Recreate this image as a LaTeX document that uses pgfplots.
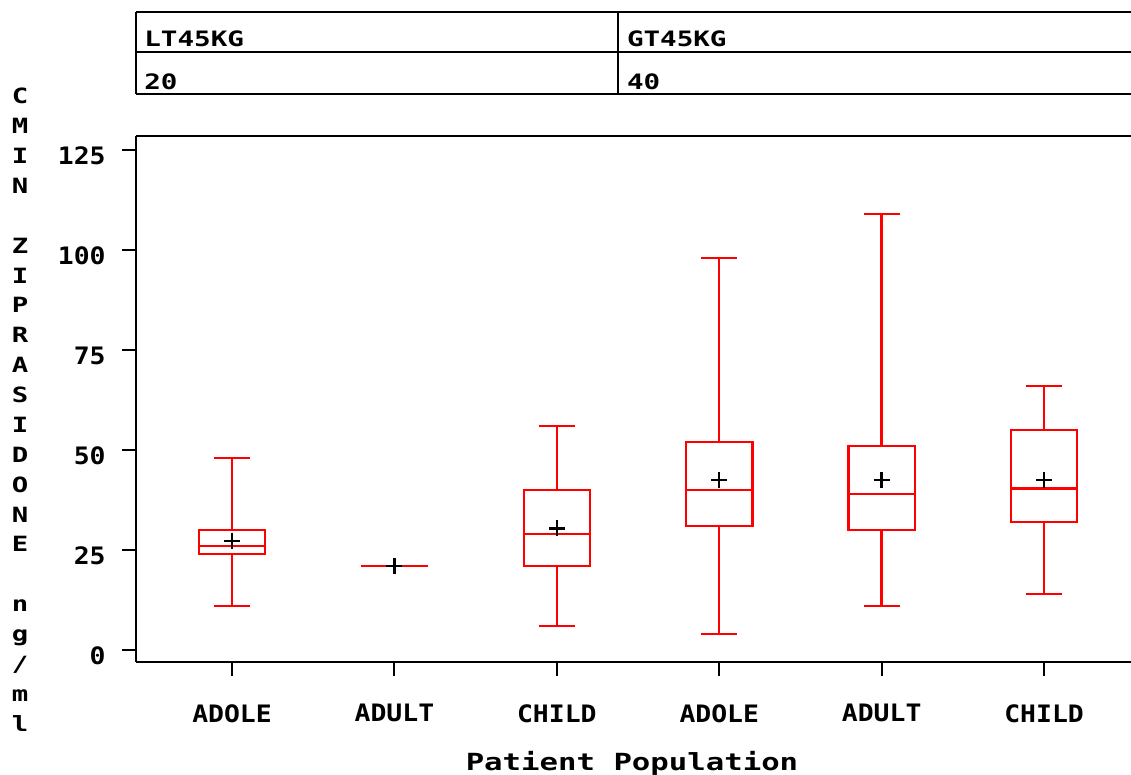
\documentclass[border=0pt]{standalone}
\usepackage{pgfplots}
\pgfplotsset{compat=1.18}
\usepgfplotslibrary{statistics}
\usepackage{fontspec}
\setmainfont{DejaVu Sans Mono}
\newfontfamily\tickfont[FakeStretch=1.1]{DejaVu Sans Mono}
\newfontfamily\widefont[FakeStretch=1.3]{DejaVu Sans Mono}

\pgfplotsset{
  sasbox/.style={red, line width=1.2pt, solid, mark=none},
  boxplot/draw direction=y,
}

\begin{document}
\begin{tikzpicture}
\useasboundingbox (0,0) rectangle (565.5pt,387.5pt);

% header table
\draw[line width=1pt] (68pt,381.5pt) -- (620pt,381.5pt);
\draw[line width=1pt] (68pt,361.5pt) -- (620pt,361.5pt);
\draw[line width=1pt] (68pt,340.5pt) -- (620pt,340.5pt);
\draw[line width=1pt] (68pt,381.5pt) -- (68pt,340.5pt);
\draw[line width=1pt] (309pt,381.5pt) -- (309pt,340.5pt);
\begin{scope}[every node/.style={anchor=base west, inner sep=0pt,
    font=\widefont\bfseries\fontsize{10.6pt}{12pt}\selectfont}]
  \node at (72pt,364.2pt) {LT45KG};
  \node at (72pt,342.9pt) {20};
  \node at (313.3pt,364.2pt) {GT45KG};
  \node at (313.3pt,342.9pt) {40};
\end{scope}

% vertical axis title, one character per line
\node[anchor=north, inner sep=0pt, align=center,
  font=\widefont\bfseries\fontsize{10.5pt}{14.93pt}\selectfont]
  at (10pt,343.5pt)
  {C\\M\\I\\N\\\mbox{}\\Z\\I\\P\\R\\A\\S\\I\\D\\O\\N\\E\\\mbox{}\\n\\g\\/\\m\\l};

% horizontal axis title
\node[anchor=base, inner sep=0pt,
  font=\widefont\bfseries\fontsize{11.8pt}{13pt}\selectfont]
  at (316pt,2pt) {Patient Population};

\begin{axis}[
  at={(68pt,56.5pt)}, anchor=south west,
  scale only axis, width=522pt, height=263pt,
  xmin=-0.5911, xmax=5.837, ymin=-3, ymax=128.5,
  axis line style={line width=1pt, black},
  axis x line*=bottom, axis y line*=left,
  tick align=outside, major tick length=7pt,
  every tick/.style={black, line width=1pt},
  xtick={0,1,2,3,4,5},
  xticklabels={ADOLE,ADULT,CHILD,ADOLE,ADULT,CHILD},
  ytick={0,25,50,75,100,125},
  yticklabels={0,25,50,75,100,125},
  xticklabel style={font=\tickfont\bfseries\fontsize{12pt}{14pt}\selectfont,
    anchor=north, inner sep=0pt, yshift=-14pt},
  yticklabel style={font=\tickfont\bfseries\fontsize{12pt}{14pt}\selectfont,
    anchor=east, inner sep=0pt, xshift=-8pt, yshift=-3pt},
  clip=false,
]
% LT45KG group
\addplot+[sasbox, boxplot prepared={draw direction=y, draw position=0,
  lower whisker=11, lower quartile=24, median=26,
  upper quartile=30, upper whisker=48,
  box extend=0.408, whisker extend=0.22}] coordinates {};
\addplot+[sasbox, boxplot prepared={draw direction=y, draw position=1,
  lower whisker=21, lower quartile=21, median=21,
  upper quartile=21, upper whisker=21,
  box extend=0.408, whisker extend=0.22}] coordinates {};
\addplot+[sasbox, boxplot prepared={draw direction=y, draw position=2,
  lower whisker=6, lower quartile=21, median=29,
  upper quartile=40, upper whisker=56,
  box extend=0.408, whisker extend=0.22}] coordinates {};
% GT45KG group
\addplot+[sasbox, boxplot prepared={draw direction=y, draw position=3,
  lower whisker=4, lower quartile=31, median=40,
  upper quartile=52, upper whisker=98,
  box extend=0.408, whisker extend=0.22}] coordinates {};
\addplot+[sasbox, boxplot prepared={draw direction=y, draw position=4,
  lower whisker=11, lower quartile=30, median=39,
  upper quartile=51, upper whisker=109,
  box extend=0.408, whisker extend=0.22}] coordinates {};
\addplot+[sasbox, boxplot prepared={draw direction=y, draw position=5,
  lower whisker=14, lower quartile=32, median=40.4,
  upper quartile=55, upper whisker=66,
  box extend=0.408, whisker extend=0.22}] coordinates {};
% means
\addplot[only marks, mark=+, mark size=4pt, black, line width=1.2pt]
  coordinates {(0,27.25) (1,21) (2,30.4) (3,42.5) (4,42.5) (5,42.5)};
\end{axis}
% top frame line of the plot area
\draw[line width=1pt] (68pt,319.5pt) -- (620pt,319.5pt);
\end{tikzpicture}
\end{document}
